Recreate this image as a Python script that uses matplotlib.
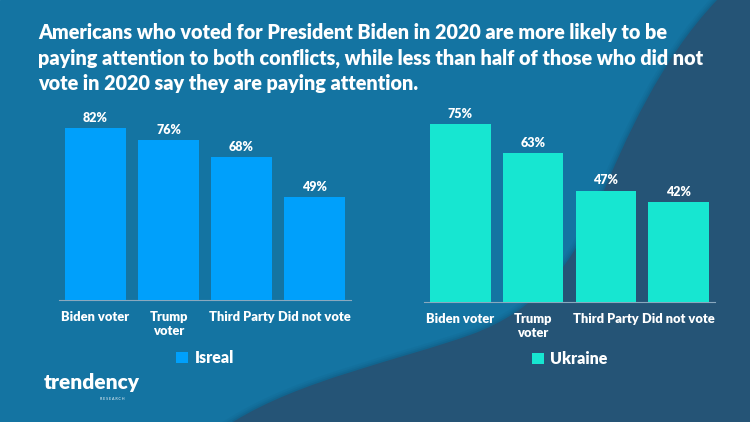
import matplotlib
matplotlib.use('Agg')
import matplotlib.pyplot as plt
from matplotlib.path import Path
from matplotlib.patches import PathPatch, Rectangle

plt.rcParams['font.family'] = ['Lato', 'DejaVu Sans']

# data
groups = ['Biden voter', 'Trump\nvoter', 'Third Party', 'Did not vote']
israel = [82, 76, 68, 49]
ukraine = [75, 63, 47, 42]

title = ('Americans who voted for President Biden in 2020 are more likely to be\n'
         'paying attention to both conflicts, while less than half of those who did not\n'
         'vote in 2020 say they are paying attention.')

W, H = 750, 422
fig = plt.figure(figsize=(7.5, 4.22), dpi=100)

# background with the dark curved shape on the right
bg = fig.add_axes([0, 0, 1, 1])
bg.set_xlim(0, W)
bg.set_ylim(H, 0)
bg.axis('off')
bg.add_patch(Rectangle((0, 0), W, H, color='#1474a2', zorder=0))
verts = [(717, 0), (660, 60), (625, 140), (600, 200),
         (575, 260), (540, 310), (470, 335),
         (400, 360), (300, 380), (233, 422),
         (750, 422), (750, 0), (717, 0)]
codes = [Path.MOVETO] + [Path.CURVE4] * 9 + [Path.LINETO, Path.LINETO, Path.CLOSEPOLY]
shape = Path(verts, codes)
for lw, a in [(8, 0.05), (5, 0.07), (2.5, 0.1)]:
    bg.add_patch(PathPatch(shape, facecolor='none', edgecolor='#0b3550', lw=lw, alpha=a, zorder=1))
bg.add_patch(PathPatch(shape, facecolor='#255476', edgecolor='none', zorder=2))

bg.text(38, 58, title, color='white', fontsize=14.2, fontweight='heavy',
        va='center', ha='left', linespacing=1.42, zorder=5)

# logo
bg.text(44, 383, 'trendency', color='white', fontsize=15, fontweight='heavy',
        va='center', ha='left', zorder=5)
bg.text(124, 399, 'R E S E A R C H', color='white', fontsize=2.6,
        va='center', ha='right', zorder=5)


def draw(ax, values, color, name, legend_y):
    x = range(len(groups))
    bars = ax.bar(x, values, width=0.83, color=color, label=name, zorder=3)
    for b, v in zip(bars, values):
        ax.annotate(f'{v}%', (b.get_x() + b.get_width() / 2, v), xytext=(0, 3),
                    textcoords='offset points', ha='center', va='bottom',
                    color='white', fontsize=9, fontweight='heavy')
    ax.set_xlim(-0.5, len(groups) - 0.5)
    ax.set_ylim(0, 100)
    ax.set_xticks(list(x))
    ax.set_xticklabels(groups, color='white', fontsize=9.3, fontweight='heavy',
                       linespacing=1.15)
    ax.tick_params(axis='x', length=0, pad=8)
    ax.set_yticks([])
    ax.patch.set_alpha(0)
    for s in ['top', 'right', 'left']:
        ax.spines[s].set_visible(False)
    ax.spines['bottom'].set_color('#8aa9bf')
    ax.spines['bottom'].set_linewidth(0.8)
    pos = ax.get_position()
    leg = ax.legend(loc='center', bbox_to_anchor=(pos.x0 + pos.width / 2, 1 - legend_y / H),
                    bbox_transform=fig.transFigure, frameon=False,
                    handlelength=0.75, handleheight=0.75, handletextpad=0.4,
                    prop={'size': 11.5, 'weight': 'heavy'})
    for t in leg.get_texts():
        t.set_color('white')


ax1 = fig.add_axes([59 / W, (H - 300) / H, 292 / W, 210 / H])
draw(ax1, israel, '#00a0fb', 'Isreal', 358)
ax2 = fig.add_axes([424 / W, (H - 302) / H, 291 / W, 237 / H])
draw(ax2, ukraine, '#17e6d1', 'Ukraine', 359)

fig.savefig('out.png', dpi=100)
